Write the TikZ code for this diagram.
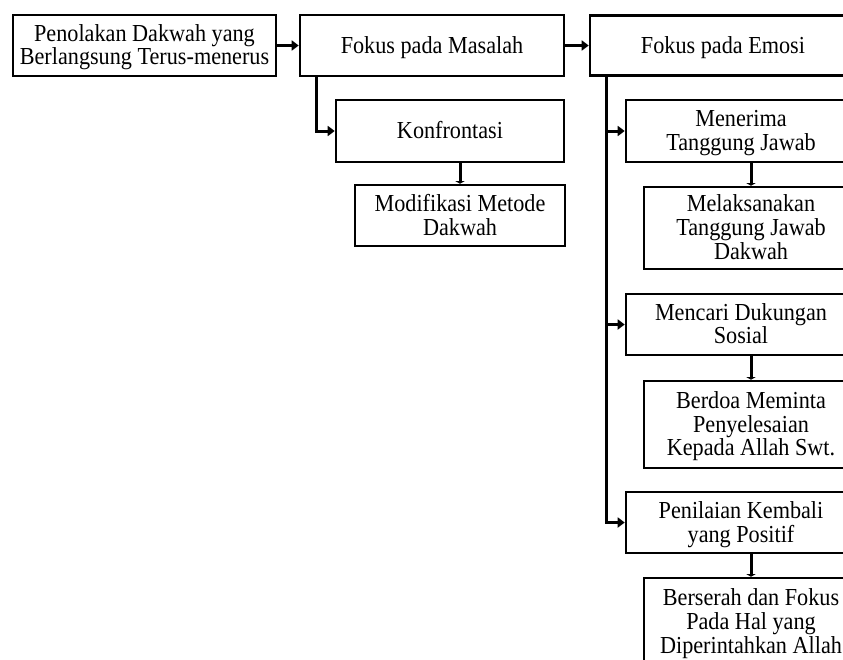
\documentclass[tikz,border=0pt]{standalone}
\usepackage{fontspec}
\usepackage{graphicx}
\setmainfont{Liberation Serif}
\usetikzlibrary{arrows.meta}
\newcommand\stretchtext[1]{\raisebox{-2.5pt}[\height][\depth]{\scalebox{1}[1.1]{\fontsize{22.2}{20.5}\selectfont\begin{tabular}{@{}c@{}}#1\end{tabular}}}}
\begin{document}
\begin{tikzpicture}[x=1pt,y=-1pt,
 box/.style={draw, line width=2.6pt, align=center, inner sep=0pt},
 conn/.style={line width=3pt, -{Triangle[length=7pt,width=10pt]}},
 vconn/.style={line width=3pt, -{Triangle[length=2.5pt,width=9pt]}}]
\useasboundingbox (0,0) rectangle (843,659);
\clip (0,0) rectangle (843,659);
\node[box, minimum width=263, minimum height=61] (a) at (144.5,45.5) {\stretchtext{Penolakan Dakwah yang\\Berlangsung Terus-menerus}};
\node[box, minimum width=264, minimum height=61] (b) at (432,45.5) {\stretchtext{Fokus pada Masalah}};
\node[box, minimum width=266, minimum height=60] (c) at (723,45.5) {\stretchtext{Fokus pada Emosi}};
\node[box, minimum width=228, minimum height=62] (k) at (450,131) {\stretchtext{Konfrontasi}};
\node[box, minimum width=210, minimum height=61] (md) at (460,215.5) {\stretchtext{Modifikasi Metode\\Dakwah}};
\node[box, minimum width=230, minimum height=62] (e1) at (741,131) {\stretchtext{Menerima\\Tanggung Jawab}};
\node[box, minimum width=214, minimum height=82] (f1) at (751,228) {\stretchtext{Melaksanakan\\Tanggung Jawab\\Dakwah}};
\node[box, minimum width=230, minimum height=61] (e2) at (741,324.5) {\stretchtext{Mencari Dukungan\\Sosial}};
\node[box, minimum width=214, minimum height=87] (f2) at (751,424.5) {\stretchtext{Berdoa Meminta\\Penyelesaian\\Kepada Allah Swt.}};
\node[box, minimum width=230, minimum height=61] (e3) at (741,522.5) {\stretchtext{Penilaian Kembali\\yang Positif}};
\node[box, minimum width=214, minimum height=88] (f3) at (751,622) {\stretchtext{Berserah dan Fokus\\Pada Hal yang\\Diperintahkan Allah}};
\draw[conn] (a.east) -- (b.west);
\draw[conn] (b.east) -- (c.west);
\coordinate (bt) at ([xshift=18pt]b.south west);
\draw[conn] (bt) |- (k.west);
\draw[vconn] (md.north |- k.south) -- (md.north);
\coordinate (ct) at ([xshift=18pt]c.south west);
\draw[conn] (ct) |- (e1.west);
\draw[conn] (ct) |- (e2.west);
\draw[conn] (ct) |- (e3.west);
\draw[vconn] (f1.north |- e1.south) -- (f1.north);
\draw[vconn] (f2.north |- e2.south) -- (f2.north);
\draw[vconn] (f3.north |- e3.south) -- (f3.north);
\end{tikzpicture}
\end{document}
